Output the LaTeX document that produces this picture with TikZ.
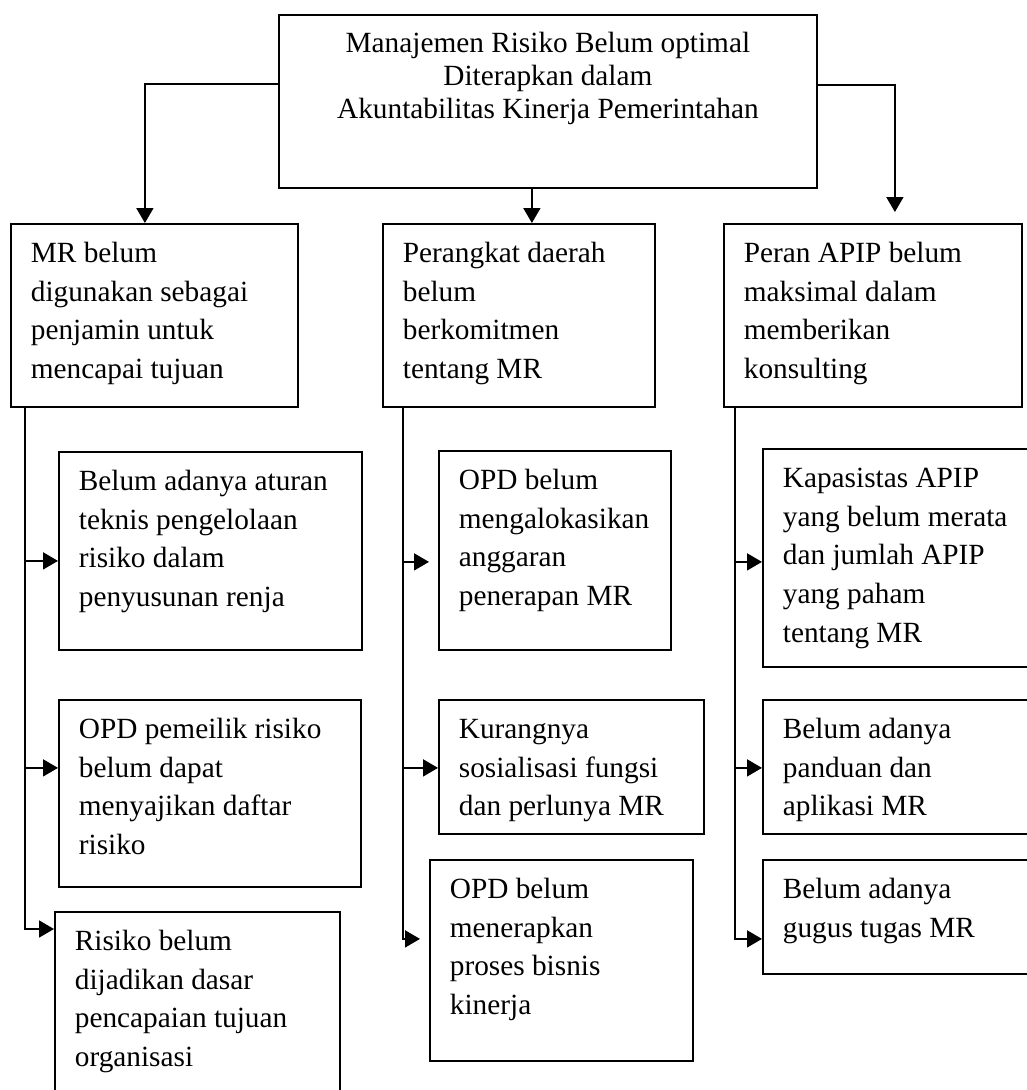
\documentclass[tikz,border=0pt]{standalone}
\usepackage{fontspec}
\setmainfont{Liberation Serif}
\usetikzlibrary{arrows.meta}
\newcommand{\mybox}[6]{%
  \pgfmathsetmacro{\myW}{#4-#2-40}%
  \pgfmathsetmacro{\myH}{#5-#3-22.8}%
  \node[box] (#1) at (#2,#3) {\parbox[t][\myH pt][t]{\myW pt}{\hyphenpenalty=10000\raggedright\strut #6}};}
\begin{document}
\begin{tikzpicture}[x=1pt,y=-1pt,
  box/.style={draw, line width=1.8pt, anchor=north west, inner xsep=20pt, inner ysep=11.4pt,
    font=\fontsize{29.3}{38.7}\selectfont},
  arr/.style={line width=1.8pt, -{Triangle[length=15pt,width=17pt]}}]
\useasboundingbox (0,0) rectangle (1027,1090);
\fill[white] (0,0) rectangle (1027,1090);
\clip (0,0) rectangle (1027,1090);

% top box
\node[box, inner ysep=14.9pt, font=\fontsize{29.3}{33}\selectfont] (top) at (278,14)
  {\parbox[t][143.2pt][t]{498pt}{\centering\strut Manajemen Risiko Belum optimal\\ Diterapkan dalam\\ Akuntabilitas Kinerja Pemerintahan}};

% level 1
\mybox{L1a}{10}{223}{297}{406}{MR belum\\ digunakan sebagai\\ penjamin untuk\\ mencapai tujuan}
\mybox{L1b}{382}{223}{654}{406}{Perangkat daerah\\ belum\\ berkomitmen\\ tentang MR}
\mybox{L1c}{723}{223}{1021}{406}{Peran APIP belum\\ maksimal dalam\\ memberikan\\ konsulting}

% children
\mybox{Ca1}{58}{451}{361}{649}{Belum adanya aturan\\ teknis pengelolaan\\ risiko dalam\\ penyusunan renja}
\mybox{Ca2}{58}{699}{360}{886}{OPD pemeilik risiko\\ belum dapat\\ menyajikan daftar\\ risiko}
\mybox{Ca3}{54}{911}{339}{1110}{Risiko belum\\ dijadikan dasar\\ pencapaian tujuan\\ organisasi}
\mybox{Cb1}{438}{450}{670}{649}{OPD belum\\ mengalokasikan\\ anggaran\\ penerapan MR}
\mybox{Cb2}{438}{699}{703}{833}{Kurangnya\\ sosialisasi fungsi\\ dan perlunya MR}
\mybox{Cb3}{429}{859}{692}{1060}{OPD belum\\ menerapkan\\ proses bisnis\\ kinerja}
\mybox{Cc1}{762}{448}{1040}{666}{Kapasistas APIP\\ yang belum merata\\ dan jumlah APIP\\ yang paham\\ tentang MR}
\mybox{Cc2}{762}{699}{1040}{833}{Belum adanya\\ panduan dan\\ aplikasi MR}
\mybox{Cc3}{762}{859}{1040}{973}{Belum adanya\\ gugus tugas MR}

% top connectors
\draw[arr] ([yshift=17.5pt]top.west) -| ([xshift=-9.5pt]L1a.north);
\draw[arr] ([yshift=16.5pt]top.east) -| ([xshift=22pt,yshift=11pt]L1c.north);
\draw[arr] ([xshift=-16pt]top.south) -- ([xshift=-16pt]top.south |- L1b.north);

% trunks
\coordinate (ta) at ([xshift=15pt]L1a.south west);
\coordinate (tb) at ([xshift=21pt]L1b.south west);
\coordinate (tc) at ([xshift=12pt]L1c.south west);

\coordinate (pa1) at ([yshift=-10pt]Ca1.west);
\coordinate (pa2) at ([yshift=25.5pt]Ca2.west);
\coordinate (pa3) at ([yshift=-18pt]Ca3.north west);
\coordinate (pb1) at ([xshift=-9pt,yshift=-11.5pt]Cb1.west);
\coordinate (pb2) at ([yshift=-1pt]Cb2.west);
\coordinate (pb3) at ([xshift=-9pt,yshift=21.5pt]Cb3.west);
\coordinate (pc1) at ([yshift=-4pt]Cc1.west);
\coordinate (pc2) at ([yshift=-1pt]Cc2.west);
\coordinate (pc3) at ([yshift=-22pt]Cc3.west);

\draw[arr] (ta) |- (pa3);
\draw[arr] (ta |- pa1) -- (pa1);
\draw[arr] (ta |- pa2) -- (pa2);

\draw[arr] (tb) |- (pb3);
\draw[arr] (tb |- pb1) -- (pb1);
\draw[arr] (tb |- pb2) -- (pb2);

\draw[arr] (tc) |- (pc3);
\draw[arr] (tc |- pc1) -- (pc1);
\draw[arr] (tc |- pc2) -- (pc2);
\end{tikzpicture}
\end{document}
